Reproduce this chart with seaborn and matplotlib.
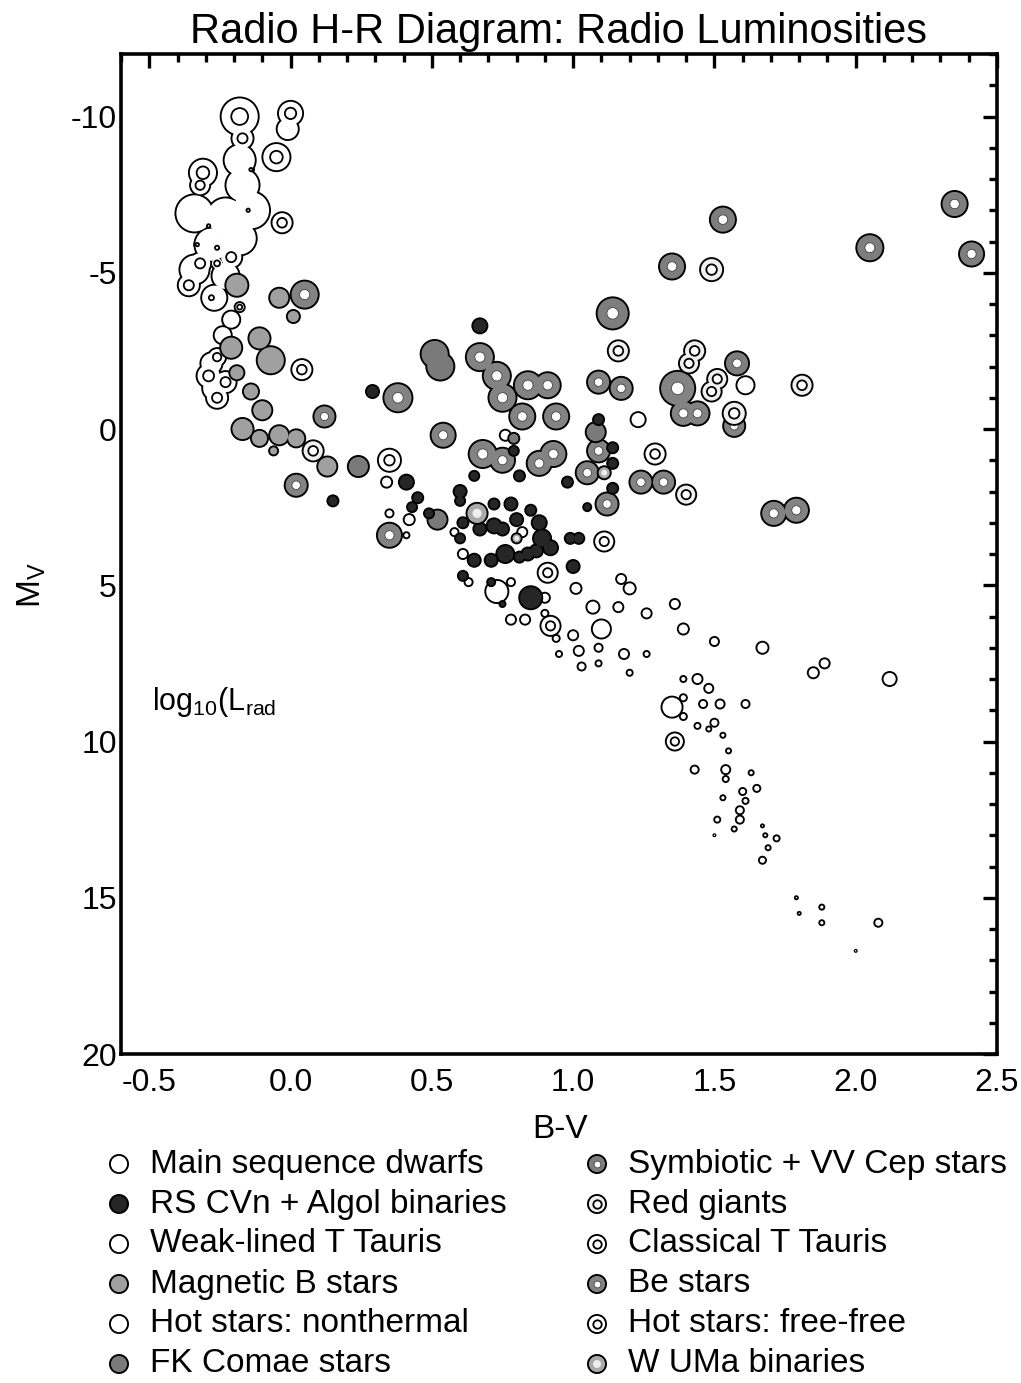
import matplotlib
matplotlib.use("Agg")
import matplotlib.pyplot as plt
from matplotlib.ticker import MultipleLocator, FormatStrFormatter
import numpy as np
import pandas as pd
import seaborn as sns

# ---------------------------------------------------------------- data
# B-V colour, absolute visual magnitude M_V and log10 radio luminosity
ms_bv = [0.78, 0.83, 0.90, 1.07, 1.16, 1.26, 1.36, 1.10, 1.09, 1.00, 0.94, 1.02, 0.95, 1.18, 1.26,
         1.03, 1.09, 1.20, 1.39, 1.50, 1.67, 1.85, 1.89, 2.12, 1.39, 1.44, 1.48, 1.35, 1.39, 1.39,
         1.46, 1.52, 1.50, 1.44, 1.48, 1.61, 1.53, 1.55, 1.43, 1.54, 1.54, 1.63, 1.65, 1.53, 1.60,
         1.61, 1.59, 1.59, 1.51, 1.50, 1.57, 1.67, 1.68, 1.72, 1.69, 1.67, 1.79, 1.80, 1.88, 1.88,
         2.08, 2.00]
ms_mv = [6.1, 6.1, 5.9, 5.7, 5.7, 5.9, 5.6, 6.4, 7.0, 6.6, 6.7, 7.1, 7.2, 7.2, 7.2,
         7.6, 7.5, 7.8, 6.4, 6.8, 7.0, 7.8, 7.5, 8.0, 8.0, 8.0, 8.3, 8.9, 8.6, 9.2,
         8.8, 8.8, 9.4, 9.5, 9.6, 8.8, 9.8, 10.3, 10.9, 10.9, 11.2, 11.0, 11.5, 11.8, 11.6,
         11.9, 12.2, 12.5, 12.5, 13.0, 12.8, 12.7, 13.0, 13.1, 13.4, 13.8, 15.0, 15.5, 15.3, 15.8,
         15.8, 16.7]
ms_logl = [14, 14, 13.25, 14.75, 14, 14, 14, 16.25, 13.5, 14, 13.25, 14, 13, 14, 13,
           13.5, 13, 13, 14.25, 13.75, 14.5, 14.25, 14, 15, 13, 14, 13.75, 16.75, 13.25, 13.25,
           13.5, 13.75, 13.5, 13, 12.75, 13.5, 12.75, 12.75, 13.5, 13.75, 13, 12.75, 13.25, 12.75, 13.25,
           13, 13.5, 13.5, 13, 12, 12.75, 12.25, 12.5, 13, 12.75, 13.25, 12.25, 12.25, 12.75, 12.75,
           13.5, 12]

rs_bv = [0.67, 0.29, 0.15, 0.41, 0.45, 0.43, 0.49, 1.09, 1.14, 1.14, 0.98, 0.65, 0.81, 0.79, 1.05,
         1.14, 0.60, 0.60, 0.72, 0.78, 0.85, 0.88, 0.80, 0.72, 0.61, 0.60, 0.67, 0.75, 0.89, 0.92,
         0.65, 0.71, 0.76, 0.84, 0.87, 0.81, 0.61, 0.99, 1.02, 1.00, 0.71, 0.75, 0.85]
rs_mv = [-3.3, -1.2, 2.3, 1.7, 2.2, 2.5, 2.7, -0.3, 0.6, 1.1, 1.7, 1.5, 1.5, 0.7, 2.5,
         1.9, 2.0, 2.3, 2.4, 2.4, 2.6, 3.0, 2.9, 3.1, 3.0, 3.5, 3.2, 3.2, 3.5, 3.8,
         4.2, 4.2, 4.0, 4.0, 3.9, 4.1, 4.7, 3.5, 3.5, 4.4, 4.9, 5.6, 5.4]
rs_logl = [15.25, 14.75, 14.25, 15.25, 14.25, 14, 14, 14.25, 14.25, 14.25, 14.25, 14, 14.25, 14, 13.5,
           14.25, 14.75, 14, 14.25, 14.75, 14.25, 15.25, 14.75, 15.25, 14.25, 14, 14.75, 14.75, 16, 15.25,
           14.75, 14.75, 16, 14.75, 14.75, 14.25, 14, 14.25, 14.25, 14.75, 13.5, 13, 17.25]

wt_bv = [0.34, 0.35, 0.42, 0.41, 0.76, 1.23, 1.61, 0.58, 0.82, 0.61, 0.63, 0.78, 0.90, 0.73, 1.01, 1.17, 1.20]
wt_mv = [1.7, 2.7, 2.9, 3.4, 0.2, -0.3, -1.4, 3.3, 3.3, 4.0, 4.9, 4.9, 5.4, 5.2, 5.1, 4.8, 5.1]
wt_logl = [14.25, 13.5, 14.25, 13, 14.25, 15.25, 16, 13.5, 14, 14, 13.5, 13.5, 14, 17.25, 14.25, 14, 14.5]

mb_bv = [-0.19, -0.21, -0.19, -0.11, -0.07, -0.04, 0.01, -0.14, -0.10, -0.17, -0.11, -0.04, 0.02, -0.06, 0.13]
mb_mv = [-4.6, -2.6, -1.8, -2.9, -2.2, -4.2, -3.6, -1.2, -0.6, 0.0, 0.3, 0.2, 0.3, 0.7, 1.2]
mb_logl = [17.25, 17, 15.25, 17, 18.5, 16.5, 14.75, 15.5, 16.5, 17, 15.75, 16.5, 16, 13.75, 16.5]

hn_bv = [-0.01, -0.34, -0.23, -0.14, -0.17, -0.18, -0.18, -0.28, -0.34, -0.23, -0.27, -0.21,
         -0.24, -0.28, -0.27]
hn_mv = [-9.6, -6.9, -6.8, -7.0, -7.8, -8.6, -6.1, -5.9, -5.1, -4.9, -4.2, -3.5,
         -3.0, -2.1, -1.3]
hn_logl = [17, 21, 21, 21, 20, 19.5, 20, 20, 19, 18.5, 18, 16,
           16, 17, 17.5]

fk_bv = [0.51, 0.53, 0.24, 0.52, 0.79, 1.08]
fk_mv = [-2.4, -2.0, 1.2, 2.9, 0.3, 0.1]
fk_logl = [18.5, 18.5, 16.75, 16.5, 14.25, 16.5]

sy_bv = [1.14, 1.53, 1.35, 2.05, 2.35, 2.41, 1.58]
sy_mv = [-3.7, -6.7, -5.2, -5.8, -7.2, -5.6, -2.1]
sy_logl = [19.5, 18, 18, 18.25, 18, 17.75, 17.5]

rg_bv = [1.49, 1.16, 1.43, 1.41, 1.51, 1.49, 1.57, 1.81, 1.40, 0.08]
rg_mv = [-5.1, -2.5, -2.5, -2.1, -1.6, -1.2, -0.5, -1.4, 2.1, 0.7]
rg_logl = [17.25, 16.75, 16.75, 16.5, 16.5, 16.5, 17.25, 16.75, 16.5, 16.75]

ct_bv = [0.35, 1.29, 1.11, 0.91, 0.92, 1.36]
ct_mv = [1.0, 0.8, 3.6, 4.6, 6.3, 10.0]
ct_logl = [17.25, 16.75, 16.5, 16.5, 16.5, 16]

be_bv = [0.05, 0.12, 0.02, 0.38, 0.54, 0.35, 0.67, 0.73, 0.84, 0.91, 0.75, 0.82, 0.94, 0.68, 0.75,
         0.88, 0.93, 1.09, 1.17, 1.09, 1.05, 1.12, 1.24, 1.32, 1.37, 1.39, 1.44, 1.71, 1.79, 1.57]
be_mv = [-4.3, -0.4, 1.8, -1.0, 0.2, 3.4, -2.3, -1.7, -1.4, -1.4, -1.0, -0.4, -0.4, 0.8, 1.0,
         1.1, 0.8, -1.5, -1.3, 0.7, 1.4, 2.4, 1.7, 1.7, -1.3, -0.5, -0.5, 2.7, 2.6, -0.1]
be_logl = [18.5, 17, 17.25, 18.75, 17.75, 17.75, 18.5, 18.5, 18.5, 18, 18.5, 18, 18, 18.5, 17.75,
           17.75, 18, 17.25, 17.25, 17.25, 17.25, 17.25, 17.25, 17.25, 20.25, 17.75, 17.5, 17.75, 17.75, 17]

hf_bv = [-0.18, -0.17, 0.00, -0.05, -0.31, -0.32, -0.14, -0.15, -0.29, -0.33, -0.26, -0.21, -0.32,
         -0.26, -0.36, -0.28, -0.18, -0.03, -0.29, -0.23, -0.26, -0.26, 0.04]
hf_mv = [-10.0, -9.3, -10.1, -8.7, -8.2, -7.8, -8.3, -7.0, -6.5, -5.9, -5.8, -5.5, -5.3,
         -5.3, -4.6, -4.2, -3.9, -6.6, -1.7, -1.5, -1.0, -2.3, -1.9]
hf_logl = [21, 17, 17.75, 18.5, 18.5, 16.5, 13, 13, 13, 13, 13.5, 17, 17,
           14.5, 17, 14, 14, 16.75, 17.5, 17, 17, 16, 16.75]

wu_bv = [0.66, 1.11, 0.80]
wu_mv = [2.7, 1.4, 3.5]
wu_logl = [16.75, 14.75, 14]

left_labels = ["Main sequence dwarfs", "RS CVn + Algol binaries", "Weak-lined T Tauris",
               "Magnetic B stars", "Hot stars: nonthermal", "FK Comae stars"]
right_labels = ["Symbiotic + VV Cep stars", "Red giants", "Classical T Tauris",
                "Be stars", "Hot stars: free-free", "W UMa binaries"]

# ---------------------------------------------------------------- styling
DPI = 100
sns.set_theme(style="white")
plt.rcParams["font.family"] = ["Liberation Sans", "DejaVu Sans"]
plt.rcParams["mathtext.fontset"] = "custom"
plt.rcParams["mathtext.rm"] = "Liberation Sans"
plt.rcParams["mathtext.it"] = "Liberation Sans:italic"
plt.rcParams["axes.unicode_minus"] = False
for key in ("text.color", "axes.labelcolor", "xtick.color", "ytick.color", "axes.edgecolor"):
    plt.rcParams[key] = "black"


def diam(logl):
    """marker diameter in pixels for a given log radio luminosity"""
    return 4.0 + 4.0 * (logl - 12.0)


def area(px):
    return (px * 72.0 / DPI) ** 2


def frame(bv, mv, logl):
    return pd.DataFrame({"bv": bv, "mv": mv, "logL": logl})


STYLE = {
    "Main sequence dwarfs": ("white", None),
    "RS CVn + Algol binaries": ("#262626", None),
    "Weak-lined T Tauris": ("white", None),
    "Magnetic B stars": ("#a0a0a0", None),
    "Hot stars: nonthermal": ("white", None),
    "FK Comae stars": ("#7a7a7a", None),
    "Symbiotic + VV Cep stars": ("#7e7e7e", "hole"),
    "Red giants": ("#f0f0f0", "loop"),
    "Classical T Tauris": ("white", "loop"),
    "Be stars": ("#838383", "hole"),
    "Hot stars: free-free": ("white", "loop"),
    "W UMa binaries": ("#a9a9a9", "spot"),
}


def body(ax, df, face, z):
    """black halo then fill, so outlines of overlapping members merge"""
    lv = sorted(df["logL"].unique())
    common = dict(data=df, x="bv", y="mv", size="logL", legend=False, ax=ax)
    sns.scatterplot(sizes={v: area(diam(v)) for v in lv}, color="black",
                    edgecolor="none", linewidth=0, zorder=z, **common)
    sns.scatterplot(sizes={v: area(max(diam(v) - 3.8, 1.4)) for v in lv}, color=face,
                    edgecolor="none", linewidth=0, zorder=z + 0.1, **common)


def center(ax, df, kind, z):
    if kind is None:
        return
    lv = sorted(df["logL"].unique())
    common = dict(data=df, x="bv", y="mv", size="logL", legend=False, ax=ax)
    if kind == "hole":
        sns.scatterplot(sizes={v: area(0.34 * diam(v)) for v in lv}, color="white",
                        edgecolor="#444444", linewidth=0.6, zorder=z + 0.2, **common)
    elif kind == "loop":
        sns.scatterplot(sizes={v: area(max(0.42 * diam(v), 2.5)) for v in lv}, color="white",
                        edgecolor="black", linewidth=1.3, zorder=z + 0.2, **common)
    elif kind == "spot":
        sns.scatterplot(sizes={v: area(0.4 * diam(v)) for v in lv}, color="#eeeeee",
                        edgecolor="none", linewidth=0, zorder=z + 0.2, **common)


def draw(ax, df, label, z):
    face, kind = STYLE[label]
    body(ax, df, face, z)
    center(ax, df, kind, z)


# ---------------------------------------------------------------- figure
fig = plt.figure(figsize=(10.21, 13.83), dpi=DPI)
ax = fig.add_axes([121 / 1021, 1 - 1054 / 1383, 876 / 1021, 1000 / 1383])

# hot stars: both kinds share one merged envelope
hot_nt = frame(hn_bv, hn_mv, hn_logl)
hot_ff = frame(hf_bv, hf_mv, hf_logl)
body(ax, pd.concat([hot_nt, hot_ff], ignore_index=True), "white", 2)
center(ax, hot_ff, "loop", 2)

draw(ax, frame(ms_bv, ms_mv, ms_logl), "Main sequence dwarfs", 3)
draw(ax, frame(wt_bv, wt_mv, wt_logl), "Weak-lined T Tauris", 3)
draw(ax, frame(mb_bv, mb_mv, mb_logl), "Magnetic B stars", 4)
draw(ax, frame(sy_bv, sy_mv, sy_logl), "Symbiotic + VV Cep stars", 5)
draw(ax, frame(be_bv, be_mv, be_logl), "Be stars", 5)
draw(ax, frame(fk_bv, fk_mv, fk_logl), "FK Comae stars", 6)
draw(ax, frame(ct_bv, ct_mv, ct_logl), "Classical T Tauris", 6)
draw(ax, frame(rg_bv, rg_mv, rg_logl), "Red giants", 6)
draw(ax, frame(rs_bv, rs_mv, rs_logl), "RS CVn + Algol binaries", 7)
draw(ax, frame(wu_bv, wu_mv, wu_logl), "W UMa binaries", 8)

ax.set_xlim(-0.6, 2.5)
ax.set_ylim(20, -12)
ax.xaxis.set_major_locator(MultipleLocator(0.5))
ax.xaxis.set_minor_locator(MultipleLocator(0.1))
ax.yaxis.set_major_locator(MultipleLocator(5))
ax.yaxis.set_minor_locator(MultipleLocator(1))
ax.xaxis.set_major_formatter(FormatStrFormatter("%.1f"))
ax.yaxis.set_major_formatter(FormatStrFormatter("%d"))
ax.tick_params(which="both", direction="in", top=True, right=True, width=2.4, color="black")
ax.tick_params(which="major", length=10, labelsize=23)
ax.tick_params(which="minor", length=5.5)
ax.tick_params(axis="x", which="major", pad=10)
ax.tick_params(axis="y", which="major", pad=3)
for sp in ax.spines.values():
    sp.set_linewidth(2.6)
    sp.set_color("black")
ax.set_xlabel("")
ax.set_ylabel("")

ax.text((152 - 121) / 876, (1054 - 710) / 1000, r"log$_\mathregular{10}$(L$_\mathregular{rad}$",
        fontsize=22, ha="left", va="baseline", transform=ax.transAxes)

fig.text(558 / 1021, 1 - 43 / 1383, "Radio H-R Diagram: Radio Luminosities",
         fontsize=30, ha="center", va="baseline")
fig.text(560 / 1021, 1 - 1138 / 1383, "B-V", fontsize=24, ha="center", va="baseline")
fig.text(32 / 1021, 1 - 585 / 1383, r"M$_\mathregular{V}$", fontsize=24, rotation=90,
         ha="center", va="center")

# ---------------------------------------------------------------- legend
lax = fig.add_axes([0, 0, 1, 1])
lax.set_xlim(0, 1021)
lax.set_ylim(1383, 0)
lax.axis("off")
key_l = 16.0
for labels, mx, tx in [(left_labels, 119, 150), (right_labels, 597, 628)]:
    for i, lab in enumerate(labels):
        y = 1164 + 40 * i
        draw(lax, frame([mx], [y], [key_l]), lab, 2)
        lax.text(tx, y, lab, fontsize=24, ha="left", va="center")
lax.set_xlabel("")
lax.set_ylabel("")

fig.savefig("out.png", dpi=DPI)
